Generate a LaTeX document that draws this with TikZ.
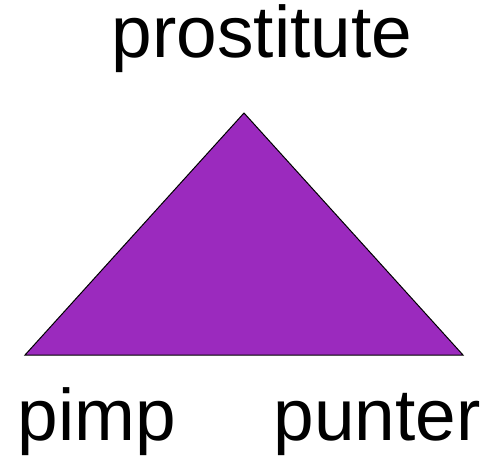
\documentclass[tikz,border=0pt]{standalone}
\usepackage{fontspec}
\setmainfont{Liberation Sans}
\usetikzlibrary{positioning}
\definecolor{trPurple}{RGB}{155, 42,190}

\begin{document}
\begin{tikzpicture}[x=1pt,y=-1pt,
  every node/.style={font=\fontsize{73}{80}\selectfont,inner sep=0pt,anchor=base},
  tri/.style={draw=black,line width=1pt,fill=trPurple,line join=miter}
]
\useasboundingbox (0,0) rectangle (486,455);
\coordinate (top) at (244,113);
\coordinate (left) at (25,355);
\coordinate (right) at (463,355);
\filldraw[tri] (top) -- (right) -- (left) -- cycle;
\node (prostitute) at (262,57) {prostitute};
\node (pimp) at (97,440) {pimp};
\node (punter) at (377,440) {punter};
\end{tikzpicture}
\end{document}
